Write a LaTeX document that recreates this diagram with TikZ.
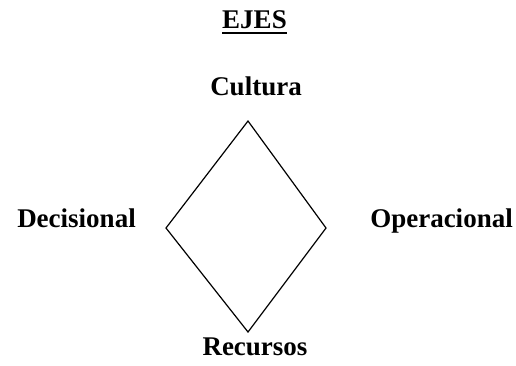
\documentclass[tikz,border=0pt]{standalone}
\usepackage{fontspec}
\setmainfont{Liberation Serif}
\begin{document}
\begin{tikzpicture}[x=1pt, y=-1pt, eje/.style={font=\bfseries\fontsize{27}{29}\selectfont, inner sep=0pt, anchor=base}]
    \useasboundingbox (0,0) rectangle (516,365);
    \node[eje] (titulo) at (254.5,28) {EJES};
    \draw[line width=2pt] (titulo.base west) ++(0,5) -- ([yshift=-5pt]titulo.base east);
    \node[eje] (cultura) at (256,95) {Cultura};
    \node[eje] (decisional) at (76.5,227) {Decisional};
    \node[eje] (operacional) at (441.5,227) {Operacional};
    \node[eje] (recursos) at (255,355) {Recursos};
    \coordinate (arriba) at (248,121);
    \coordinate (izq) at (166,228);
    \coordinate (abajo) at (248,332);
    \coordinate (der) at (326,228);
    \draw[line width=1.2pt] (arriba) -- (der) -- (abajo) -- (izq) -- cycle;
\end{tikzpicture}
\end{document}
